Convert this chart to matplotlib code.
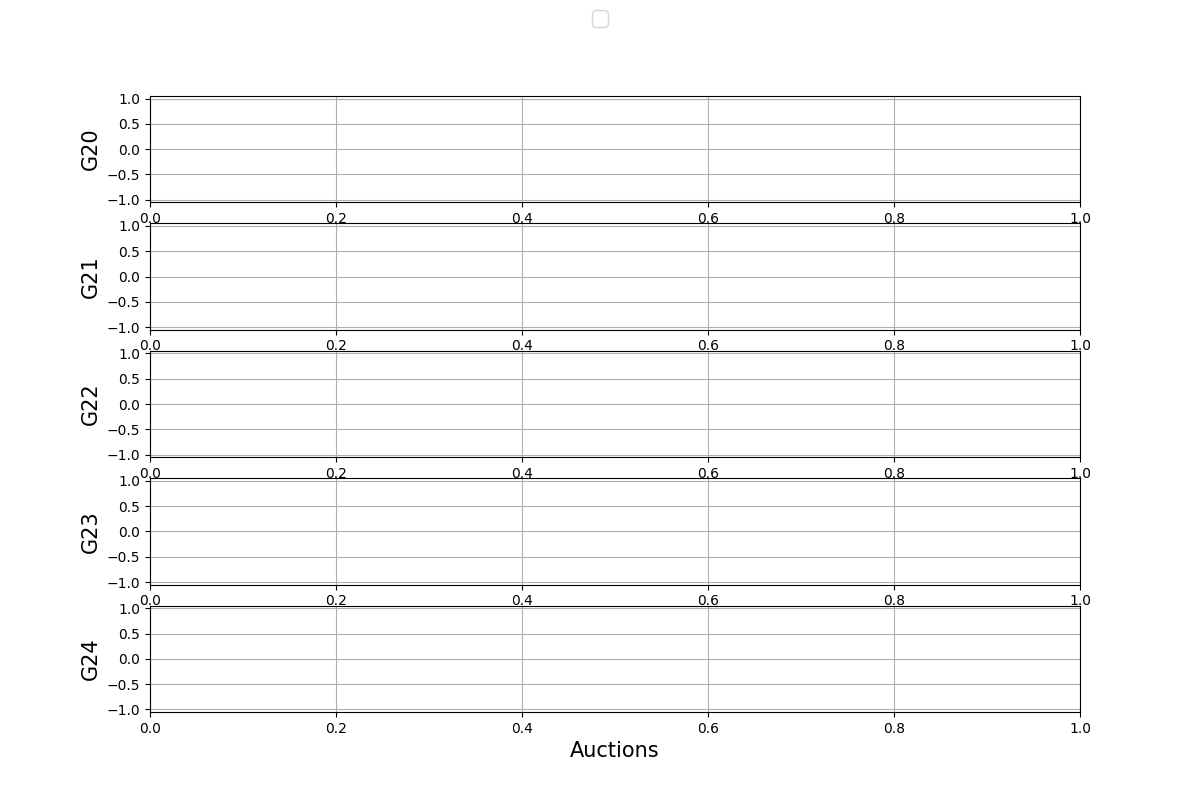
import matplotlib
matplotlib.use('Agg')
from matplotlib import pyplot as plt

# series shown per group (empty in this chart)
groups = ['G20', 'G21', 'G22', 'G23', 'G24']
auctions = []
prices = {g: [] for g in groups}
y_ticks = [-1.0, -0.5, 0.0, 0.5, 1.0]

fig, axs = plt.subplots(len(groups), 1, figsize=(12, 8), dpi=100)
for ax, g in zip(axs, groups):
    ax.plot(auctions, prices[g])
    ax.set_xlim(0, 1)
    ax.set_ylim(-1.05, 1.05)
    ax.set_yticks(y_ticks)
    ax.set_ylabel(g, fontsize=15)
    ax.grid()
axs[-1].set_xlabel('Auctions', fontsize=15)

fig.legend(handles=[], loc='upper center', fontsize=15)
fig.savefig('out.png')
